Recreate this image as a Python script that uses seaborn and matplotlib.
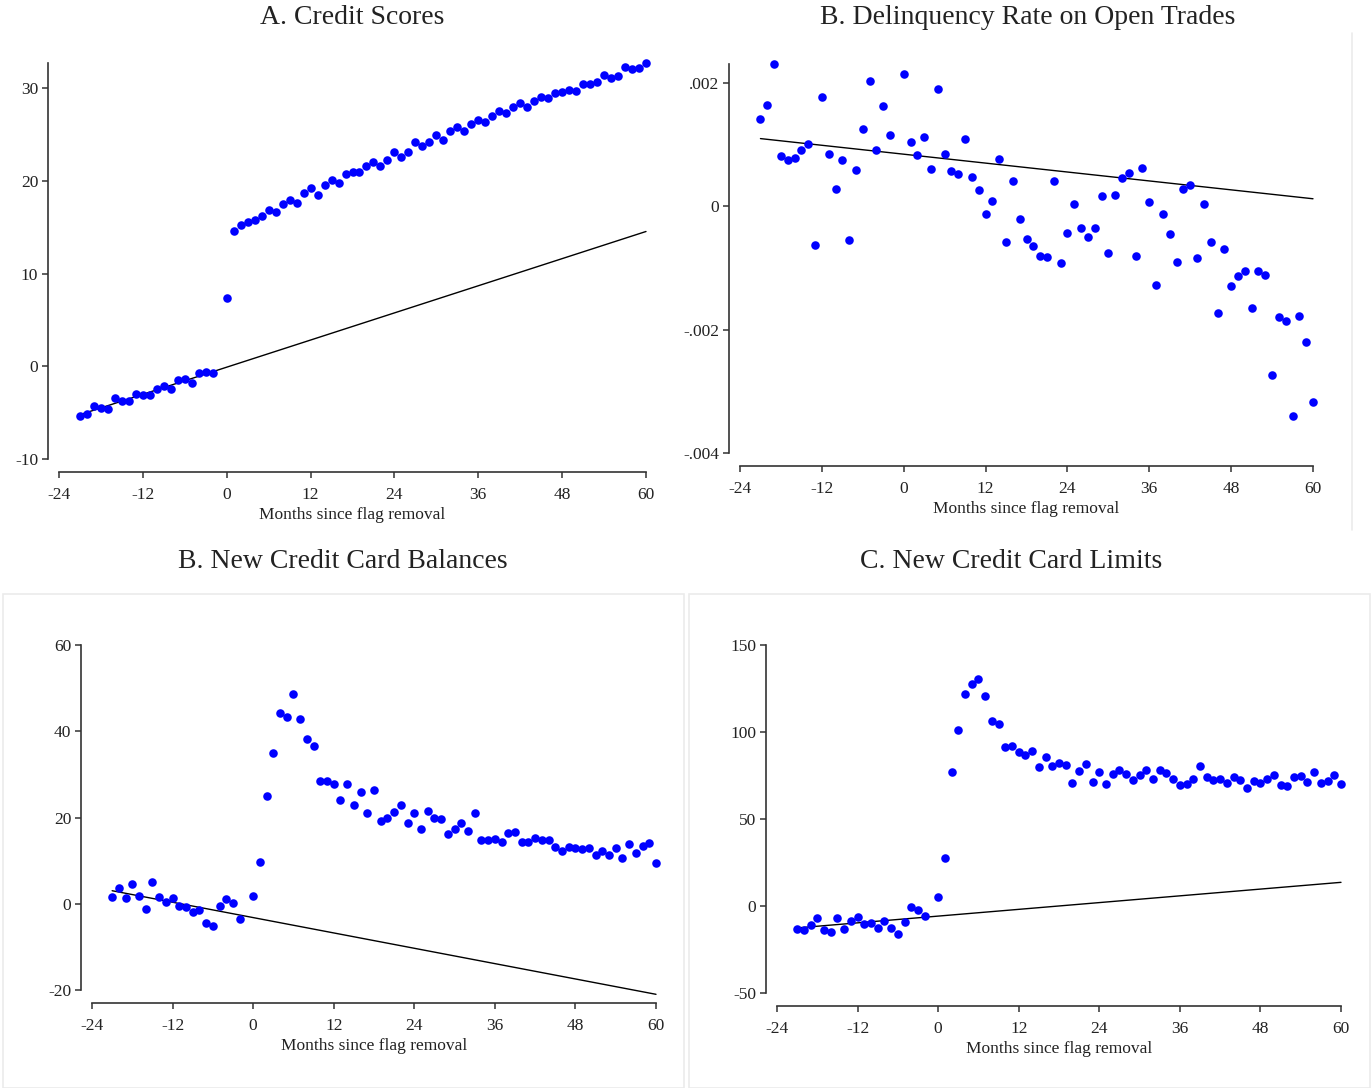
import numpy as np
import pandas as pd
import matplotlib
matplotlib.use("Agg")
import matplotlib.pyplot as plt
import seaborn as sns

# months since flag removal (month -1 is the omitted period)
months = list(range(-21, -1)) + list(range(0, 61))

credit_score = [
    -5.37, -5.10, -4.33, -4.47, -4.60, -3.40, -3.76, -3.72, -2.97, -3.11,
    -3.11, -2.43, -2.08, -2.47, -1.43, -1.36, -1.79, -0.75, -0.61, -0.72,
    7.41, 14.63, 15.24, 15.60, 15.81, 16.20, 16.80, 16.64, 17.50, 17.96,
    17.60, 18.64, 19.18, 18.50, 19.50, 20.07, 19.71, 20.72, 20.97, 20.90,
    21.57, 22.00, 21.60, 22.25, 23.08, 22.58, 23.08, 24.15, 23.76, 24.19,
    24.90, 24.37, 25.33, 25.76, 25.37, 26.15, 26.55, 26.33, 27.01, 27.48,
    27.26, 27.91, 28.41, 27.98, 28.62, 28.98, 28.94, 29.41, 29.55, 29.80,
    29.73, 30.48, 30.41, 30.70, 31.38, 31.13, 31.30, 32.31, 32.02, 32.16,
    32.74,
]

# delinquency rate, in units of 0.001
delinquency = [
    1.414, 1.64, 2.31, 0.82, 0.755, 0.78, 0.917, 1.01, -0.62, 1.775,
    0.858, 0.28, 0.75, -0.54, 0.594, 1.263, 2.03, 0.912, 1.624, 1.16,
    2.14, 1.04, 0.83, 1.13, 0.60, 1.90, 0.847, 0.567, 0.523, 1.09,
    0.48, 0.264, -0.124, 0.086, 0.766, -0.583, 0.405, -0.205, -0.534, -0.642,
    -0.804, -0.82, 0.416, -0.912, -0.432, 0.038, -0.35, -0.496, -0.35, 0.173,
    -0.761, 0.189, 0.464, 0.54, -0.804, 0.62, 0.065, -1.274, -0.124, -0.448,
    -0.907, 0.286, 0.35, -0.842, 0.032, -0.583, -1.732, -0.696, -1.29, -1.133,
    -1.052, -1.64, -1.047, -1.117, -2.74, -1.80, -1.856, -3.394, -1.78, -2.207,
    -3.179,
]

card_balances = [
    1.55, 3.64, 1.40, 4.50, 1.86, -1.32, 5.12, 1.47, 0.47, 1.32,
    -0.54, -0.78, -1.86, -1.47, -4.42, -5.27, -0.54, 1.16, 0.16, -3.49,
    1.86, 9.77, 24.88, 34.88, 44.19, 43.33, 48.53, 42.79, 38.29, 36.67,
    28.37, 28.45, 27.75, 23.95, 27.83, 22.95, 25.81, 20.93, 26.28, 19.22,
    19.92, 21.24, 22.79, 18.84, 21.09, 17.29, 21.47, 19.92, 19.69, 16.12,
    17.29, 18.68, 16.98, 21.01, 14.73, 14.73, 15.12, 14.42, 16.51, 16.74,
    14.34, 14.34, 15.19, 14.73, 14.88, 13.10, 12.17, 13.26, 12.95, 12.71,
    12.95, 11.24, 12.17, 11.40, 12.87, 10.62, 13.88, 11.71, 13.49, 14.03,
    9.46,
]

card_limits = [
    -13.38, -13.96, -10.90, -6.69, -13.58, -15.10, -7.07, -13.38, -8.60, -6.31,
    -10.50, -9.75, -12.43, -8.60, -12.60, -16.25, -9.37, -0.38, -2.29, -5.93,
    5.35, 27.70, 76.86, 101.1, 121.8, 127.5, 130.6, 120.6, 106.3, 104.4,
    91.6, 92.2, 88.7, 86.8, 88.9, 79.7, 85.7, 80.3, 82.0, 81.3,
    70.7, 77.8, 81.5, 71.5, 77.1, 70.4, 75.9, 78.0, 75.9, 72.3,
    75.5, 78.4, 72.8, 78.0, 76.3, 73.2, 69.4, 70.0, 72.8, 80.7,
    74.4, 72.7, 73.0, 70.7, 74.2, 72.3, 67.7, 71.9, 70.6, 72.8,
    75.1, 69.4, 69.2, 74.2, 74.6, 71.3, 76.9, 70.9, 72.1, 75.1,
    70.4,
]

# pre-period trend extrapolated (value at first and last month)
trend_months = [-21, 60]
trend_score = [-5.22, 14.53]
trend_delinq = [1.10, 0.124]
trend_balances = [3.02, -21.0]
trend_limits = [-12.6, 13.6]

x_ticks = [-24, -12, 0, 12, 24, 36, 48, 60]

sns.set_theme(style="white")
plt.rcParams["font.family"] = ["Liberation Serif", "DejaVu Serif"]

W, H = 1372, 1088
fig = plt.figure(figsize=(W / 100, H / 100), dpi=100)


def px_axes(left, right, top, bottom):
    return fig.add_axes([left / W, 1 - bottom / H, (right - left) / W, (bottom - top) / H])


def panel(ax, y, trend, ylim, yticks, yticklabels, scale=1.0):
    df = pd.DataFrame({"month": months, "value": np.array(y) * scale})
    sns.scatterplot(data=df, x="month", y="value", ax=ax, color="#0000ff",
                    s=38, linewidth=0, clip_on=False, zorder=3)
    sns.lineplot(x=trend_months, y=np.array(trend) * scale, ax=ax,
                 color="black", linewidth=1.0, clip_on=False)
    ax.set_xlim(-24, 60)
    ax.set_ylim(*ylim)
    ax.set_xticks(x_ticks)
    ax.set_xticklabels([str(t) for t in x_ticks])
    ax.set_yticks(yticks)
    ax.set_yticklabels(yticklabels)
    ax.set_xlabel("Months since flag removal", fontsize=12.5, color="#222222", labelpad=3)
    ax.set_ylabel("")
    ax.patch.set_alpha(0)
    sns.despine(ax=ax, offset={"left": 8, "bottom": 9})
    for s in ("left", "bottom"):
        ax.spines[s].set_color("#333333")
        ax.spines[s].set_linewidth(1.2)
    ax.tick_params(axis="both", direction="out", length=4, width=1.1,
                   color="#333333", labelsize=12.5, labelcolor="#222222",
                   left=True, bottom=True)
    ax.tick_params(axis="y", pad=3)
    ax.tick_params(axis="x", pad=7)


# light frames around the bottom panels
for x0, x1 in [(3, 684), (689, 1370)]:
    fig.add_artist(plt.Rectangle((x0 / W, 0), (x1 - x0) / W, 1 - 594 / H,
                                 transform=fig.transFigure, fill=False,
                                 edgecolor="#ebebeb", linewidth=1.2))
fig.add_artist(plt.Line2D([1352 / W, 1352 / W], [1 - 33 / H, 1 - 530 / H],
                          transform=fig.transFigure, color="#ebebeb", linewidth=1.2))

axA = px_axes(59, 646, 62.6, 459)
panel(axA, credit_score, trend_score, (-10, max(credit_score)),
      [-10, 0, 10, 20, 30], ["-10", "0", "10", "20", "30"])

axB = px_axes(740, 1313, 64, 453)
panel(axB, delinquency, trend_delinq, (-0.004, max(delinquency) * 0.001),
      [-0.004, -0.002, 0, 0.002], ["-.004", "-.002", "0", ".002"], scale=0.001)

axC = px_axes(92, 656, 645, 990)
panel(axC, card_balances, trend_balances, (-20, 60),
      [-20, 0, 20, 40, 60], ["-20", "0", "20", "40", "60"])

axD = px_axes(777, 1341, 645, 993)
panel(axD, card_limits, trend_limits, (-50, 150),
      [-50, 0, 50, 100, 150], ["-50", "0", "50", "100", "150"])

title_kw = dict(ha="center", va="center", fontsize=20, color="#222222")
fig.text(352 / W, 1 - 17 / H, "A. Credit Scores", **title_kw)
fig.text(1028 / W, 1 - 17 / H, "B. Delinquency Rate on Open Trades", **title_kw)
fig.text(343 / W, 1 - 562 / H, "B. New Credit Card Balances", **title_kw)
fig.text(1011 / W, 1 - 562 / H, "C. New Credit Card Limits", **title_kw)

fig.savefig("out.png", dpi=100)
